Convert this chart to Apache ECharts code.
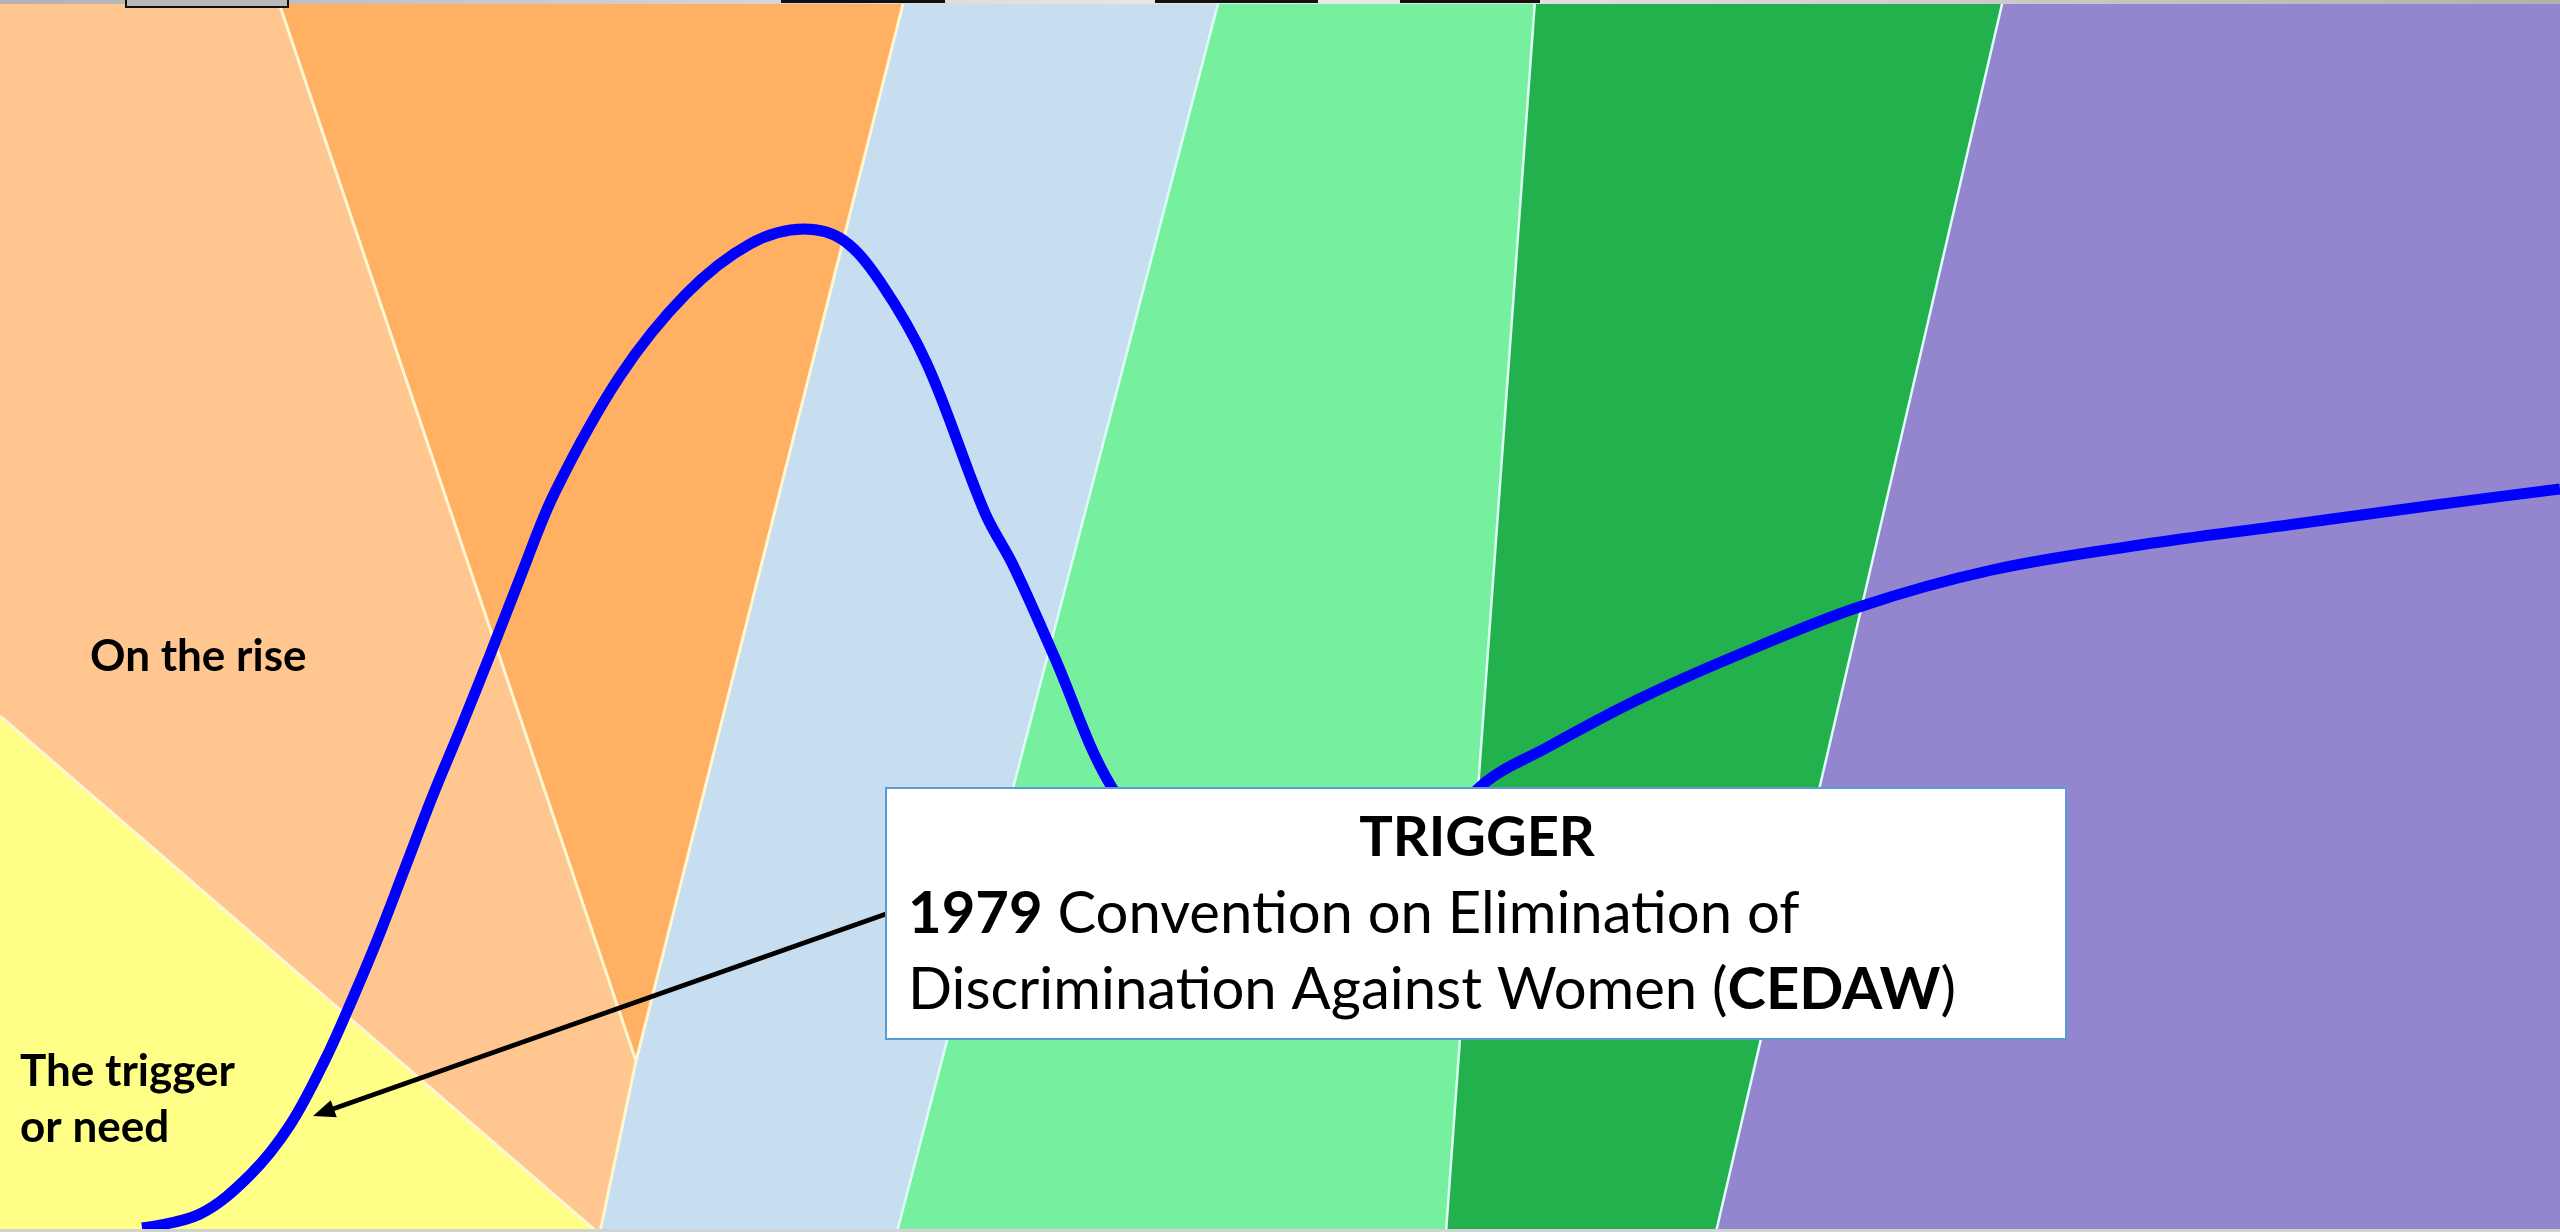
<!DOCTYPE html>
<html><head><meta charset="utf-8">
<script src="https://cdn.jsdelivr.net/npm/echarts@6/dist/echarts.min.js"></script>
<style>html,body{margin:0;padding:0;overflow:hidden;background:#fff}#c{width:2560px;height:1232px}</style>
</head><body><div id="c"></div>
<script>
// ---- background stage bands (polygons in diagram units) ----
const bandTrigger   = [[0,716],[597,1232],[0,1232]];
const bandRise      = [[0,0],[278,0],[636,1061],[600,1232],[597,1232],[0,716]];
const bandPeak      = [[278,0],[904,0],[636,1061]];
const bandBlue      = [[904,0],[1219,0],[897,1232],[600,1232],[636,1061]];
const bandLightGreen= [[1219,0],[1535,0],[1446,1232],[897,1232]];
const bandDarkGreen = [[1535,0],[2003,0],[1716,1232],[1446,1232]];
const bandPurple    = [[2003,0],[2560,0],[2560,1232],[1716,1232]];
const bandColors = ['#FFFF88','#FFC78F','#FFB062','#C7DEF1','#76F09E','#22B14C','#9386CE'];

// ---- white seams between bands ----
const seamWarm = [
  [[0,716],[597,1232]],
  [[278,0],[636,1061],[600,1232]],
  [[904,0],[636,1061]]
];
const seamCool = [
  [[1219,0],[897,1232]],
  [[1535,0],[1446,1232]],
  [[2003,0],[1716,1232]]
];

// ---- the life-cycle curve ----
const curveX = [142,200,250,290,325,352,378,405,433,462,490,520,555,620,686,750,804,843,881,927,985,1013,1054,1111,1200,1300,1400,1481,1548,1637,1733,1859,1992,2140,2288,2435,2560];
const curveY = [1228,1214,1175,1125,1060,1000,938,868,795,725,655,578,492,376,294,244,229,240,283,364,513,565,656,786,900,945,880,786,747,700,657,607,570,545,525,505,489];

// ---- annotation arrow (from text box to the trigger point) ----
const arrowFrom = [886,914];
const arrowTo   = [313,1116];

const bands = [bandTrigger,bandRise,bandPeak,bandBlue,bandLightGreen,bandDarkGreen,bandPurple];

const chart = echarts.init(document.getElementById('c'), null, {renderer:'canvas'});
const FONT = 'Lato, "Open Sans", sans-serif';

chart.setOption({
  animation:false,
  backgroundColor:'#ffffff',
  grid:{left:0,right:0,top:0,bottom:0},
  xAxis:{type:'value',min:0,max:2560,show:false},
  yAxis:{type:'value',min:0,max:1232,inverse:true,show:false},
  series:[
    {
      type:'custom', z:1, silent:true,
      data: bands.map((b,i)=>[i]),
      renderItem:(params, api)=>{
        const pts = bands[params.dataIndex].map(p=>api.coord(p));
        return {type:'polygon', shape:{points:pts}, style:{fill:bandColors[params.dataIndex]}};
      }
    },
    {
      type:'lines', coordinateSystem:'cartesian2d', polyline:true, z:2, silent:true,
      lineStyle:{color:'#FFF6D2',width:3,opacity:1},
      data: seamWarm.map(s=>({coords:s}))
    },
    {
      type:'lines', coordinateSystem:'cartesian2d', polyline:true, z:2, silent:true,
      lineStyle:{color:'#DDFFF6',width:2.5,opacity:1},
      data: seamCool.map(s=>({coords:s}))
    },
    {
      type:'line', z:5, silent:true, symbol:'none', smooth:0.35,
      lineStyle:{color:'#0000FF',width:11},
      data: curveX.map((x,i)=>[x,curveY[i]])
    },
    {
      type:'custom', z:6, silent:true,
      data:[[0]],
      renderItem:(params, api)=>{
        const a = api.coord(arrowFrom), b = api.coord(arrowTo);
        const dx = b[0]-a[0], dy = b[1]-a[1], len = Math.sqrt(dx*dx+dy*dy);
        const ux = dx/len, uy = dy/len, px = -uy, py = ux;
        const headL = 22, headW = 9;
        const bx = b[0]-ux*headL, by = b[1]-uy*headL;
        return {type:'group', children:[
          {type:'line', shape:{x1:a[0],y1:a[1],x2:bx+ux*4,y2:by+uy*4}, style:{stroke:'#000',lineWidth:5}},
          {type:'polygon', shape:{points:[[b[0],b[1]],[bx+px*headW,by+py*headW],[bx-px*headW,by-py*headW]]}, style:{fill:'#000'}}
        ]};
      }
    }
  ],
  graphic:[
    {type:'rect', z:100, shape:{x:0,y:0,width:2560,height:4},
     style:{fill:new echarts.graphic.LinearGradient(0,0,1,0,[
       {offset:0,color:'#B2B2B2'},{offset:0.5,color:'#ECECEC'},{offset:1,color:'#B0B0B0'}])}},
    {type:'rect', z:101, shape:{x:126,y:-2,width:162,height:9}, style:{fill:'#B9B9B9',stroke:'#111',lineWidth:2}},
    {type:'rect', z:101, shape:{x:781,y:0,width:164,height:3}, style:{fill:'#111'}},
    {type:'rect', z:101, shape:{x:1155,y:0,width:163,height:3}, style:{fill:'#111'}},
    {type:'rect', z:101, shape:{x:1400,y:0,width:140,height:3}, style:{fill:'#111'}},
    {type:'rect', z:100, shape:{x:0,y:1229,width:2560,height:3}, style:{fill:'#D2D2D2'}},

    {type:'rect', z:110, shape:{x:886,y:788,width:1180,height:251},
     style:{fill:'#FFFFFF',stroke:'#5B9BD5',lineWidth:2}},
    {type:'text', z:111, style:{text:'TRIGGER', x:1477, y:838, align:'center', verticalAlign:'middle',
      fontFamily:FONT, fontWeight:'bold', fontSize:56, fill:'#000'}},
    {type:'text', z:111, style:{
      text:'{b|1979}{n| Convention on Elimination of}\n{n|Discrimination Against Women (}{b|CEDAW}{n|)}',
      x:908, y:876, align:'left', verticalAlign:'top', lineHeight:76, fill:'#000',
      fontFamily:FONT, fontSize:58,
      rich:{
        b:{fontFamily:FONT, fontWeight:'bold', fontSize:58, lineHeight:76, fill:'#000'},
        n:{fontFamily:FONT, fontWeight:'normal', fontSize:58, lineHeight:76, fill:'#000'}
      }}},

    {type:'text', z:50, style:{text:'On the rise', x:90, y:657, align:'left', verticalAlign:'middle',
      fontFamily:FONT, fontWeight:'bold', fontSize:44, fill:'#000'}},
    {type:'text', z:50, style:{text:'The trigger\nor need', x:20, y:1044, align:'left', verticalAlign:'top',
      lineHeight:56, fontFamily:FONT, fontWeight:'bold', fontSize:44, fill:'#000'}}
  ]
});
</script></body></html>
